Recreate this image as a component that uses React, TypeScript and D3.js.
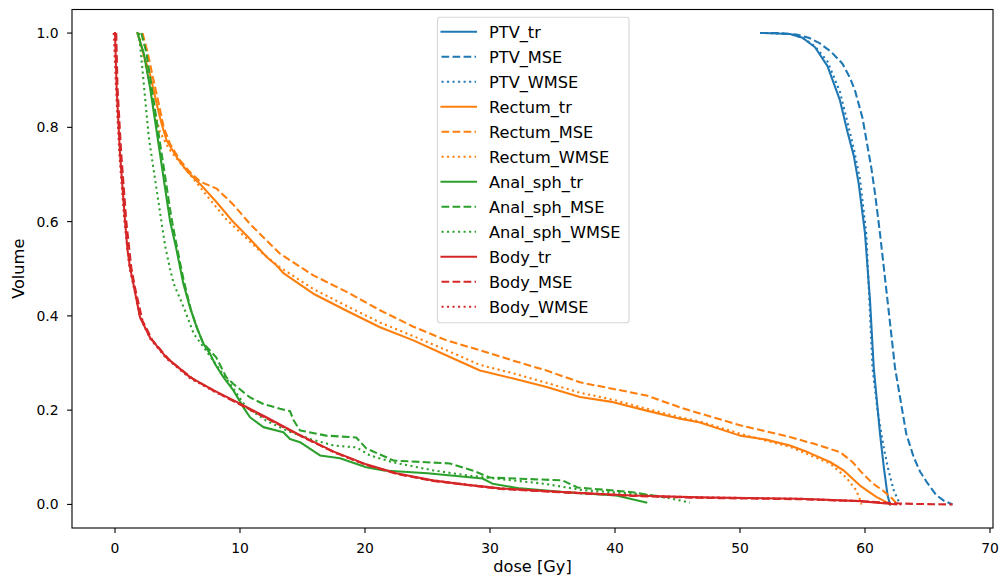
import React from "react";
import * as d3 from "d3";

type Pt = [number, number];

// ---- data: [dose Gy, volume fraction] ----
const PTV_tr: Pt[] = [[52,1.0],[54,0.998],[55,0.99],[56,0.97],[57,0.93],[58,0.857],[58.6,0.79],[59.1,0.74],[59.5,0.68],[60.0,0.575],[60.4,0.433],[60.7,0.29],[61.2,0.15],[61.5,0.08],[61.8,0.02],[62.0,0.0]];
const PTV_MSE: Pt[] = [[51.6,1.0],[53,1.0],[54.5,0.997],[55.5,0.99],[56.4,0.978],[57.3,0.96],[58.2,0.935],[58.8,0.905],[59.2,0.878],[59.8,0.82],[60.2,0.76],[60.5,0.715],[60.8,0.66],[61.2,0.575],[61.8,0.433],[62.4,0.29],[63.3,0.15],[63.9,0.1],[64.4,0.07],[65,0.045],[65.7,0.02],[66.3,0.008],[67,0.0]];
const PTV_WMSE: Pt[] = [[52,1.0],[54,0.998],[55,0.99],[56,0.972],[57,0.94],[58,0.875],[58.6,0.81],[59.1,0.755],[59.6,0.69],[60.1,0.575],[60.35,0.433],[60.6,0.29],[61.0,0.2],[61.5,0.12],[61.9,0.07],[62.3,0.03],[62.8,0.0]];

const Rectum_tr: Pt[] = [[1.8,1.0],[2.27,0.956],[2.8,0.913],[3.33,0.85],[3.73,0.807],[4.13,0.772],[4.93,0.737],[5.73,0.708],[6.8,0.68],[8.13,0.641],[9.47,0.599],[10.8,0.563],[12.13,0.525],[12.93,0.507],[13.5,0.49],[15.87,0.447],[18.53,0.411],[21.2,0.376],[23.87,0.348],[26.53,0.316],[29.2,0.284],[31.87,0.267],[34.53,0.249],[37.2,0.228],[39.87,0.217],[42.53,0.199],[45.2,0.182],[46.8,0.174],[50,0.146],[52,0.138],[54,0.125],[55.5,0.11],[57.2,0.09],[58.3,0.072],[59.6,0.04],[60.9,0.016],[61.7,0.005],[62.0,0.0]];
const Rectum_MSE: Pt[] = [[2.2,1.0],[2.6,0.96],[3.0,0.91],[3.5,0.85],[3.9,0.8],[4.4,0.765],[5.2,0.73],[6.0,0.705],[6.8,0.685],[8.13,0.67],[9.47,0.636],[10.8,0.595],[12.13,0.56],[13.2,0.532],[15.87,0.486],[18.53,0.451],[21.2,0.412],[23.87,0.377],[26.53,0.348],[29.2,0.327],[31.87,0.305],[34.53,0.284],[37.2,0.259],[39.87,0.245],[42.53,0.231],[45.2,0.206],[46.8,0.193],[50,0.168],[54,0.143],[56,0.128],[58,0.111],[59,0.09],[59.8,0.066],[60.6,0.045],[61.4,0.03],[62.2,0.012],[62.6,0.0]];
const Rectum_WMSE: Pt[] = [[1.9,1.0],[2.3,0.95],[2.7,0.9],[3.1,0.84],[3.6,0.79],[4.3,0.755],[5.2,0.725],[6.3,0.69],[7.5,0.65],[8.9,0.605],[10.3,0.57],[11.7,0.535],[13.2,0.503],[15.87,0.457],[18.53,0.421],[21.2,0.386],[23.87,0.357],[26.53,0.327],[29.2,0.296],[31.87,0.278],[34.53,0.258],[37.2,0.237],[39.87,0.222],[42.53,0.203],[45.2,0.185],[46.8,0.176],[50,0.15],[54,0.122],[57.2,0.087],[58.5,0.057],[59.3,0.03],[59.6,0.01],[59.7,0.0]];

const Anal_sph_tr: Pt[] = [[1.8,1.0],[2.3,0.957],[2.8,0.885],[3.2,0.815],[3.6,0.744],[4.0,0.672],[4.4,0.602],[4.93,0.539],[5.47,0.468],[6.0,0.418],[6.53,0.376],[7.07,0.341],[7.6,0.32],[8.0,0.298],[8.67,0.27],[9.47,0.242],[10.27,0.206],[10.8,0.185],[11.87,0.164],[13.47,0.153],[14.0,0.139],[14.8,0.132],[16.4,0.104],[18.0,0.098],[20.1,0.079],[21.5,0.072],[25,0.066],[29.4,0.055],[30.2,0.044],[32.4,0.034],[36.1,0.026],[40.1,0.019],[42.5,0.004]];
const Anal_sph_MSE: Pt[] = [[2.1,1.0],[2.5,0.96],[2.9,0.89],[3.3,0.82],[3.7,0.75],[4.1,0.68],[4.5,0.61],[5.0,0.54],[5.5,0.475],[6.1,0.41],[6.6,0.372],[7.0,0.345],[7.3,0.335],[8.1,0.312],[8.9,0.27],[9.5,0.255],[10.8,0.227],[11.87,0.213],[13.2,0.203],[14.0,0.198],[14.3,0.178],[14.8,0.157],[16.9,0.146],[19.3,0.142],[20.1,0.119],[22.3,0.093],[26.8,0.087],[28.6,0.072],[30,0.057],[35.8,0.051],[37,0.036],[41.4,0.026],[44,0.015]];
const Anal_sph_WMSE: Pt[] = [[1.9,1.0],[2.1,0.95],[2.3,0.893],[2.7,0.78],[3.1,0.708],[3.5,0.638],[4.0,0.55],[4.4,0.5],[4.7,0.468],[5.5,0.418],[6.3,0.362],[7.1,0.333],[8.0,0.3],[9.2,0.256],[10.5,0.206],[12.1,0.178],[13.7,0.157],[15.6,0.139],[17.5,0.125],[19.3,0.121],[20.4,0.104],[22.3,0.089],[25.5,0.072],[28.1,0.062],[29.7,0.057],[34.3,0.044],[37.5,0.03],[41.4,0.023],[44,0.015],[46,0.004]];

const Body_tr: Pt[] = [[0,1.0],[0.13,0.885],[0.4,0.744],[0.8,0.602],[1.0,0.54],[1.2,0.503],[1.47,0.468],[2.0,0.397],[2.8,0.354],[4.1,0.312],[6.0,0.27],[7.9,0.242],[10,0.214],[12.1,0.185],[14.8,0.147],[17.5,0.112],[20.1,0.085],[22.5,0.066],[25.4,0.051],[28,0.042],[30.8,0.034],[36.1,0.026],[41.4,0.019],[46.8,0.015],[54.8,0.012],[59.6,0.007],[61.7,0.002],[62.5,0.0]];
const Body_MSE: Pt[] = [[0.1,1.0],[0.2,0.885],[0.5,0.744],[0.9,0.602],[1.3,0.503],[1.6,0.46],[2.2,0.39],[3.0,0.348],[4.4,0.305],[6.3,0.265],[8.2,0.237],[10,0.212],[12.1,0.183],[14.8,0.146],[17.5,0.111],[20.1,0.084],[22.5,0.065],[25.4,0.05],[30.8,0.033],[36.1,0.025],[41.4,0.018],[46.8,0.014],[54.8,0.011],[59.6,0.007],[62,0.003],[64,0.001],[67,0.0]];
const Body_WMSE: Pt[] = [[-0.1,1.0],[0.08,0.885],[0.35,0.744],[0.75,0.602],[1.15,0.503],[1.45,0.468],[2.0,0.397],[2.8,0.352],[4.1,0.31],[6.0,0.268],[7.9,0.24],[10,0.213],[12.1,0.184],[14.8,0.146],[17.5,0.111],[20.1,0.084],[22.5,0.066],[25.4,0.051],[30.8,0.034],[36.1,0.026],[41.4,0.019],[46.8,0.015],[54.8,0.012],[59.6,0.007],[62,0.002],[63,0.0]];

const seriesNames = ["PTV_tr","PTV_MSE","PTV_WMSE","Rectum_tr","Rectum_MSE","Rectum_WMSE","Anal_sph_tr","Anal_sph_MSE","Anal_sph_WMSE","Body_tr","Body_MSE","Body_WMSE"];
const seriesData: Pt[][] = [PTV_tr,PTV_MSE,PTV_WMSE,Rectum_tr,Rectum_MSE,Rectum_WMSE,Anal_sph_tr,Anal_sph_MSE,Anal_sph_WMSE,Body_tr,Body_MSE,Body_WMSE];
const organColors = ["#1f77b4","#ff7f0e","#2ca02c","#d62728"];
const styles = ["solid","dashed","dotted"];

const xTicks = [0,10,20,30,40,50,60,70];
const yTicks = [0.0,0.2,0.4,0.6,0.8,1.0];

const W = 1000, H = 580;
const L = 72, R = 993, T = 9.5, B = 528;
const FONT = "DejaVu Sans";
const FS = 13.9;
const FS_BIG = 16.2;
const LW = 2.08;

function dashFor(s: string) {
  if (s === "dashed") return "7.7,3.33";
  if (s === "dotted") return "2.08,3.44";
  return undefined;
}

export default function App() {
  const x = d3.scaleLinear().domain([-3.44, 70.24]).range([L, R]);
  const y = d3.scaleLinear().domain([-0.05, 1.05]).range([B, T]);
  const line = d3.line<Pt>().x(d => x(d[0])).y(d => y(d[1]));

  return (
    <svg width={W} height={H} style={{ position: "absolute", left: 0, top: 0, background: "#fff" }} fontFamily={FONT}>
      <defs>
        <clipPath id="plotclip">
          <rect x={L} y={T} width={R - L} height={B - T} />
        </clipPath>
      </defs>
      <rect x={0} y={0} width={W} height={H} fill="#fff" />
      <g clipPath="url(#plotclip)">
        {seriesData.map((data, i) => {
          const st = styles[i % 3];
          return (
            <path key={i} d={line(data) || ""} fill="none" stroke={organColors[Math.floor(i / 3)]}
              strokeWidth={LW} strokeDasharray={dashFor(st)}
              strokeLinecap={st === "solid" ? "square" : "butt"} strokeLinejoin="round" />
          );
        })}
      </g>
      {/* axes frame */}
      <rect x={L} y={T} width={R - L} height={B - T} fill="none" stroke="#000" strokeWidth={1.1} />
      {/* x ticks */}
      {xTicks.map(t => (
        <g key={"x" + t}>
          <line x1={x(t)} x2={x(t)} y1={B} y2={B + 4.9} stroke="#000" strokeWidth={1.1} />
          <text x={x(t)} y={552.5} textAnchor="middle" fontSize={FS} fill="#000">{t}</text>
        </g>
      ))}
      {/* y ticks */}
      {yTicks.map(t => (
        <g key={"y" + t}>
          <line x1={L - 4.9} x2={L} y1={y(t)} y2={y(t)} stroke="#000" strokeWidth={1.1} />
          <text x={L - 13.5} y={y(t) + 5} textAnchor="end" fontSize={FS} fill="#000">{t.toFixed(1)}</text>
        </g>
      ))}
      <text x={(L + R) / 2} y={572} textAnchor="middle" fontSize={FS_BIG} fill="#000">dose [Gy]</text>
      <text transform={`translate(24,${(T + B) / 2}) rotate(-90)`} textAnchor="middle" fontSize={FS_BIG} fill="#000">Volume</text>
      {/* legend */}
      <g>
        <rect x={437.5} y={17.3} width={191.5} height={305.4} rx={2.8} fill="#fff" fillOpacity={0.8} stroke="#cccccc" strokeOpacity={0.8} strokeWidth={1.1} />
        {seriesNames.map((name, i) => {
          const cy = 31.7 + i * 25;
          const st = styles[i % 3];
          return (
            <g key={name}>
              <line x1={441.5} x2={476} y1={cy} y2={cy} stroke={organColors[Math.floor(i / 3)]} strokeWidth={LW}
                strokeDasharray={dashFor(st)} strokeLinecap={st === "solid" ? "square" : "butt"} />
              <text x={489} y={cy + 5.8} fontSize={FS_BIG} fill="#000">{name}</text>
            </g>
          );
        })}
      </g>
    </svg>
  );
}
